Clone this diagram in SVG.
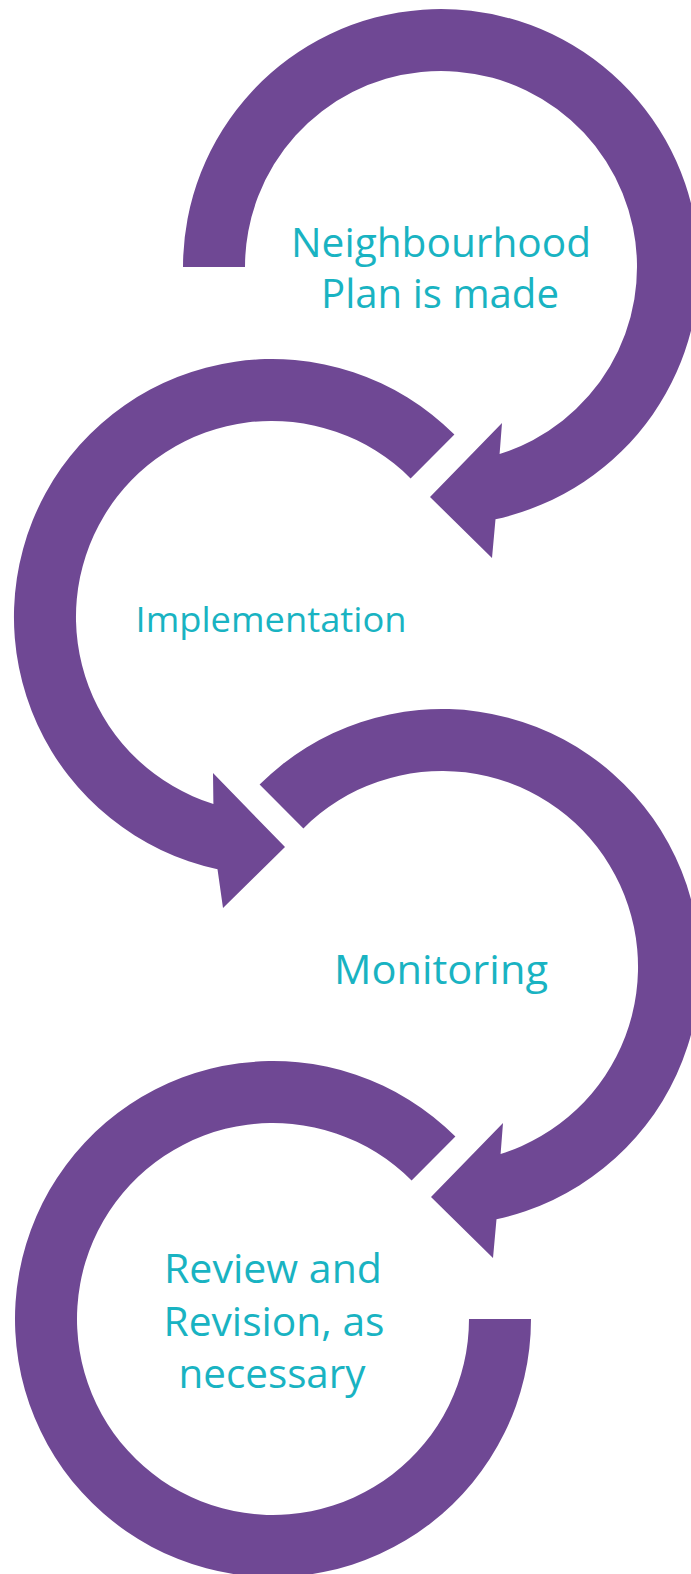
<svg xmlns="http://www.w3.org/2000/svg" width="691" height="1574" viewBox="0 0 691 1574">
<style>
.arrow{fill:#6F4894;stroke:none}
.lbl{fill:#19B3C2;font-family:"Open Sans",Lato,"Liberation Sans",sans-serif;text-anchor:middle}
</style>
<rect x="0" y="0" width="691" height="1574" fill="#FFFFFF"/>
<g id="connectors">
<path id="arrow1" class="arrow" d="M183,267 A258,258 0 1 1 495.5,519.2 L492,558 L430,497 L502,423 L499.6,454 A196,196 0 1 0 245,267 Z"/>
<path id="arrow2" class="arrow" d="M454.4,434.6 A258,258 0 1 0 217.5,869.2 L223,908 L285,847 L213,773 L213.4,804 A196,196 0 1 1 410.6,478.4 Z"/>
<path id="arrow3" class="arrow" d="M259.6,784.6 A258,258 0 1 1 496.5,1219.2 L493,1258 L431,1197 L503,1123 L500.6,1154 A196,196 0 1 0 303.4,828.4 Z"/>
<path id="arrow4" class="arrow" d="M455.4,1136.6 A258,258 0 1 0 531,1319 L469,1319 A196,196 0 1 1 411.6,1180.4 Z"/>
</g>
<g id="node1">
<text class="lbl" x="441" y="257" font-size="40" textLength="300" lengthAdjust="spacingAndGlyphs">Neighbourhood</text>
<text class="lbl" x="440" y="308" font-size="40" textLength="238" lengthAdjust="spacingAndGlyphs">Plan is made</text>
</g>
<g id="node2">
<text class="lbl" x="271" y="632" font-size="34" textLength="271" lengthAdjust="spacingAndGlyphs">Implementation</text>
</g>
<g id="node3">
<text class="lbl" x="441" y="984" font-size="40" textLength="214" lengthAdjust="spacingAndGlyphs">Monitoring</text>
</g>
<g id="node4">
<text class="lbl" x="273" y="1283" font-size="41" textLength="218" lengthAdjust="spacingAndGlyphs">Review and</text>
<text class="lbl" x="274" y="1336" font-size="41" textLength="221" lengthAdjust="spacingAndGlyphs">Revision, as</text>
<text class="lbl" x="272" y="1388" font-size="41" textLength="187" lengthAdjust="spacingAndGlyphs">necessary</text>
</g>
</svg>
